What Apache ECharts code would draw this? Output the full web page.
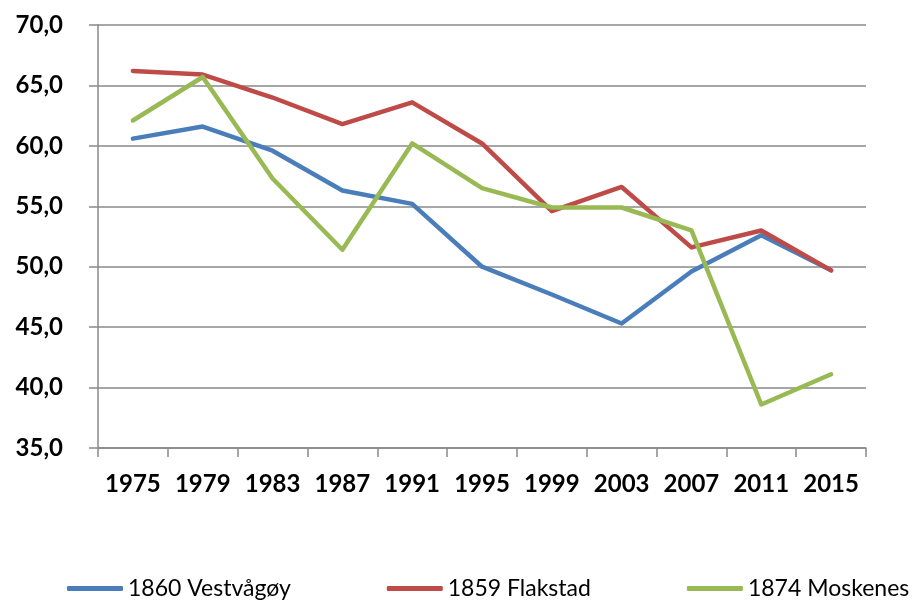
<!DOCTYPE html>
<html>
<head>
<meta charset="utf-8">
<script src="https://cdn.jsdelivr.net/npm/echarts@6/dist/echarts.min.js"></script>
<style>
  html, body { margin: 0; padding: 0; background: #fff; }
  #chart { width: 916px; height: 601px; }
</style>
</head>
<body>
<div id="chart"></div>
<script>
// år på x-aksen
const years = ['1975', '1979', '1983', '1987', '1991', '1995', '1999', '2003', '2007', '2011', '2015'];

const vestvagoy = [60.6, 61.6, 59.6, 56.3, 55.2, 50.0, 47.7, 45.3, 49.6, 52.6, 49.7];
const flakstad  = [66.2, 65.9, 64.0, 61.8, 63.6, 60.2, 54.6, 56.6, 51.6, 53.0, 49.7];
const moskenes  = [62.1, 65.7, 57.3, 51.4, 60.2, 56.5, 54.9, 54.9, 53.0, 38.6, 41.1];

const seriesNames = ['1860 Vestvågøy', '1859 Flakstad', '1874 Moskenes'];

const yMin = 35, yMax = 70, yStep = 5;

const axisGray = '#898989';
const labelFont = 'Lato, "Open Sans", sans-serif';

const chart = echarts.init(document.getElementById('chart'));

function lineSeries(name, data, color) {
    return {
        name: name,
        type: 'line',
        data: data,
        showSymbol: false,
        symbol: 'none',
        lineStyle: { color: color, width: 4.5, cap: 'round', join: 'round' },
        itemStyle: { color: color },
        animation: false
    };
}

chart.setOption({
    backgroundColor: '#ffffff',
    animation: false,
    grid: { left: 98, right: 50, top: 25, bottom: 153 },
    legend: {
        data: seriesNames,
        left: 67,
        top: 577,
        width: 849,
        padding: 0,
        itemGap: 96,
        itemWidth: 56,
        itemHeight: 5,
        icon: 'roundRect',
        textStyle: {
            fontFamily: labelFont,
            fontSize: 23,
            color: '#000'
        }
    },
    xAxis: {
        type: 'category',
        data: years,
        boundaryGap: true,
        axisLine: { lineStyle: { color: axisGray, width: 1.5 } },
        axisTick: { show: true, length: 9, lineStyle: { color: axisGray, width: 1.5 } },
        axisLabel: {
            margin: 24,
            interval: 0,
            fontFamily: labelFont,
            fontWeight: 'bold',
            fontSize: 24,
            color: '#000'
        }
    },
    yAxis: {
        type: 'value',
        min: yMin,
        max: yMax,
        interval: yStep,
        axisLine: { show: true, lineStyle: { color: axisGray, width: 1.5 } },
        axisTick: { show: true, length: 9, lineStyle: { color: axisGray, width: 1.5 } },
        splitLine: { show: true, lineStyle: { color: axisGray, width: 1.5 } },
        axisLabel: {
            margin: 35,
            fontFamily: labelFont,
            fontWeight: 'bold',
            fontSize: 24,
            color: '#000',
            formatter: function (v) { return v.toFixed(1).replace('.', ','); }
        }
    },
    series: [
        lineSeries(seriesNames[0], vestvagoy, '#4a7ebb'),
        lineSeries(seriesNames[1], flakstad, '#be4b48'),
        lineSeries(seriesNames[2], moskenes, '#98b954')
    ]
});
</script>
</body>
</html>
